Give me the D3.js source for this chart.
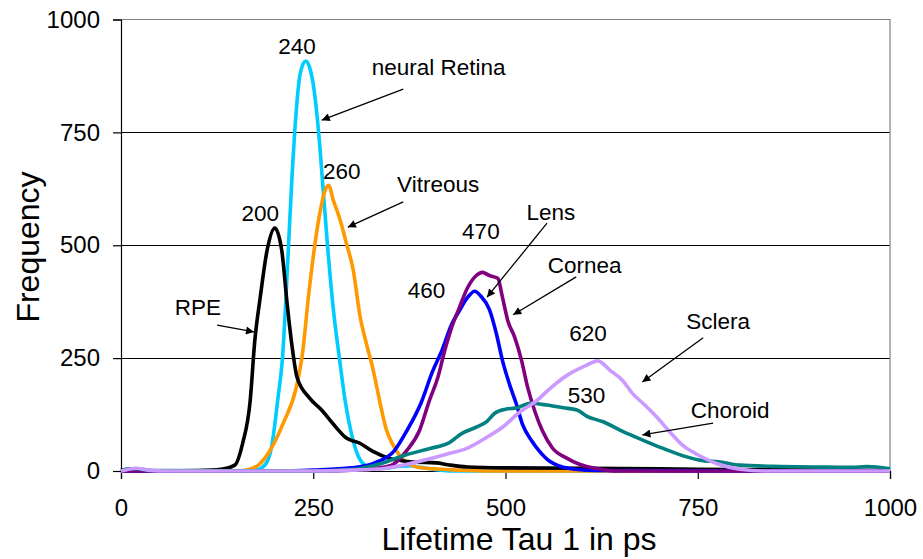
<!DOCTYPE html>
<html>
<head>
<meta charset="utf-8">
<script src="https://cdn.jsdelivr.net/npm/d3@7"></script>
<style>
  html, body { margin: 0; padding: 0; background: #fff; }
  svg { display: block; font-family: "Liberation Sans", Arial, sans-serif; }
</style>
</head>
<body>
<svg id="chart" width="923" height="559"></svg>
<script>
// Lifetime (tau 1, ps) histograms for each ocular tissue
const rpeTau = [0, 15, 30, 60, 100, 130, 148, 158, 168, 174, 181, 190, 200, 209, 216, 222, 229, 245, 262, 276, 293, 310, 327, 349, 380, 410, 425, 450, 500, 600, 700, 800, 900, 1000];
const rpeFreq = [2, 4, 1, 0, 1, 4, 13, 60, 156, 289, 384, 489, 538, 489, 371, 282, 207, 162, 133, 104, 73, 62, 44, 28, 20, 18, 14, 9, 7, 6, 5, 3, 2, 1];

const retinaTau = [0, 150, 175, 188, 196, 204, 210, 217, 222, 228, 233, 240, 245, 251, 257, 263, 269, 276, 284, 292, 300, 308, 318, 330, 345, 360, 375, 390, 410, 430, 1000];
const retinaFreq = [0, 0, 2, 15, 55, 160, 250, 470, 640, 800, 880, 908, 895, 845, 750, 620, 490, 360, 250, 150, 80, 35, 12, 5, 6, 10, 12, 8, 3, 0, 0];

const vitreousTau = [0, 150, 165, 180, 194, 211, 228, 236, 244, 252, 259, 265, 270, 276, 285, 293, 302, 311, 319, 328, 337, 345, 353, 362, 372, 385, 405, 440, 480, 1000];
const vitreousFreq = [0, 0, 3, 15, 46, 106, 186, 260, 390, 500, 575, 620, 633, 600, 556, 505, 445, 341, 283, 223, 150, 92, 60, 35, 18, 9, 5, 2, 0, 0];

const lensTau = [0, 200, 250, 300, 330, 355, 372, 390, 405, 418, 430, 440, 451, 460, 468, 479, 488, 496, 505, 514, 522, 534, 544, 557, 570, 590, 620, 1000];
const lensFreq = [0, 0, 2, 7, 18, 44, 90, 150, 220, 270, 325, 355, 385, 398, 387, 358, 305, 245, 193, 149, 104, 67, 44, 22, 11, 4, 1, 0];

const corneaTau = [0, 250, 300, 336, 354, 371, 388, 401, 412, 421, 430, 440, 451, 462, 470, 479, 490, 496, 503, 512, 521, 529, 538, 548, 561, 579, 596, 620, 645, 1000];
const corneaFreq = [0, 0, 2, 7, 15, 44, 89, 156, 207, 267, 318, 362, 407, 433, 440, 433, 427, 385, 333, 296, 244, 184, 133, 89, 51, 29, 15, 5, 0, 0];

const choroidTau = [0, 10, 20, 40, 250, 300, 337, 371, 402, 425, 444, 462, 476, 486, 500, 515, 532, 554, 575, 593, 606, 627, 653, 679, 705, 730, 753, 779, 805, 857, 900, 950, 970, 1000];
const choroidFreq = [0, 5, 5, 1, 0, 3, 16, 36, 50, 61, 84, 97, 110, 128, 137, 140, 150, 146, 140, 135, 121, 109, 87, 68, 50, 34, 24, 20, 13, 10, 9, 8, 10, 5];

const scleraTau = [0, 10, 20, 35, 60, 250, 300, 340, 380, 423, 452, 475, 497, 518, 540, 560, 582, 605, 620, 636, 652, 665, 680, 697, 714, 731, 750, 775, 805, 840, 1000];
const scleraFreq = [0, 4, 6, 2, 0, 0, 2, 5, 18, 37, 52, 74, 98, 130, 155, 186, 214, 234, 244, 223, 201, 172, 148, 119, 86, 56, 36, 16, 4, 0, 0];

const xTicks = [0, 250, 500, 750, 1000];
const yTicks = [0, 250, 500, 750, 1000];

// Tissue names and their peak-lifetime labels
const tissueNames = ["neural Retina", "Vitreous", "RPE", "Lens", "Cornea", "Choroid", "Sclera"];
const peakLabels = ["240", "260", "200", "460", "470", "530", "620"];

const series = [
  { tau: retinaTau, freq: retinaFreq, color: "#00ccff" },
  { tau: vitreousTau, freq: vitreousFreq, color: "#ff9900" },
  { tau: rpeTau, freq: rpeFreq, color: "#000000" },
  { tau: lensTau, freq: lensFreq, color: "#0000ff" },
  { tau: corneaTau, freq: corneaFreq, color: "#800080" },
  { tau: choroidTau, freq: choroidFreq, color: "#008080" },
  { tau: scleraTau, freq: scleraFreq, color: "#cc99ff" }
];

const svg = d3.select("#chart");
const x = d3.scaleLinear().domain([0, 1000]).range([121, 890]);
const y = d3.scaleLinear().domain([0, 1000]).range([471, 19.5]);

// horizontal gridlines
svg.append("g").selectAll("line")
  .data(yTicks.filter(d => d > 0 && d < 1000))
  .join("line")
  .attr("x1", x(0)).attr("x2", x(1000))
  .attr("y1", d => y(d)).attr("y2", d => y(d))
  .attr("stroke", "#000").attr("stroke-width", 1).attr("shape-rendering", "crispEdges");

// plot frame (top and right edges)
svg.append("path")
  .attr("d", `M${x(0)},${y(1000)}H${x(1000)}V${y(0)}`)
  .attr("fill", "none").attr("stroke", "#808080").attr("stroke-width", 1.2);

// axes
const yAxis = svg.append("g")
  .attr("transform", `translate(${x(0)},0)`)
  .call(d3.axisLeft(y).tickValues(yTicks).tickSize(8).tickPadding(13).tickFormat(d3.format("d")));
const xAxis = svg.append("g")
  .attr("transform", `translate(0,${y(0)})`)
  .call(d3.axisBottom(x).tickValues(xTicks).tickSize(8).tickPadding(20).tickFormat(d3.format("d")));
[yAxis, xAxis].forEach(g => {
  g.select(".domain").attr("stroke", "#000").attr("stroke-width", 1.2);
  g.selectAll(".tick line").attr("stroke", "#000").attr("stroke-width", 1.2);
  g.selectAll(".tick text").attr("fill", "#000").style("font-size", "24px")
    .style("font-family", '"Liberation Sans", Arial, sans-serif');
});

// curves
const line = d3.line()
  .x(d => x(d[0]))
  .y(d => y(d[1]))
  .curve(d3.curveMonotoneX);
svg.append("g").selectAll("path")
  .data(series)
  .join("path")
  .attr("d", s => line(s.tau.map((t, i) => [t, s.freq[i]])))
  .attr("fill", "none")
  .attr("stroke", s => s.color)
  .attr("stroke-width", 3.6)
  .attr("stroke-linejoin", "round");

// axis titles
svg.append("text")
  .attr("x", 519).attr("y", 550)
  .attr("text-anchor", "middle")
  .style("font-size", "32px")
  .text("Lifetime Tau 1 in ps");
svg.append("text")
  .attr("transform", "translate(39,247) rotate(-90)")
  .attr("text-anchor", "middle")
  .style("font-size", "32px")
  .text("Frequency");

// annotations: label positions in data units
const labelSpots = [
  { text: peakLabels[0], tau: 229, f: 941, anchor: "middle" },
  { text: tissueNames[0], tau: 326, f: 894, anchor: "start" },
  { text: peakLabels[1], tau: 287, f: 664, anchor: "middle" },
  { text: tissueNames[1], tau: 359, f: 636, anchor: "start" },
  { text: peakLabels[2], tau: 181, f: 571, anchor: "middle" },
  { text: tissueNames[2], tau: 70, f: 363, anchor: "start" },
  { text: tissueNames[3], tau: 559, f: 574, anchor: "middle" },
  { text: peakLabels[4], tau: 468, f: 532, anchor: "middle" },
  { text: tissueNames[4], tau: 555, f: 456, anchor: "start" },
  { text: peakLabels[3], tau: 373, f: 401, anchor: "start" },
  { text: peakLabels[6], tau: 583, f: 306, anchor: "start" },
  { text: tissueNames[6], tau: 735, f: 332, anchor: "start" },
  { text: peakLabels[5], tau: 581, f: 168, anchor: "start" },
  { text: tissueNames[5], tau: 741, f: 135, anchor: "start" }
];
svg.append("g").selectAll("text")
  .data(labelSpots)
  .join("text")
  .attr("x", d => x(d.tau))
  .attr("y", d => y(d.f))
  .attr("dy", "0.36em")
  .attr("text-anchor", d => d.anchor)
  .style("font-size", "22.5px")
  .attr("fill", "#000")
  .text(d => d.text);

// arrows from each tissue name to its curve
svg.append("defs").append("marker")
  .attr("id", "head")
  .attr("viewBox", "0 0 10 10")
  .attr("refX", 10).attr("refY", 5)
  .attr("markerWidth", 11).attr("markerHeight", 8)
  .attr("markerUnits", "userSpaceOnUse")
  .attr("orient", "auto")
  .append("path").attr("d", "M0,0L10,5L0,10Z").attr("fill", "#000");

const arrows = [
  { from: [367, 846], to: [261, 777] },
  { from: [367, 596], to: [295, 540] },
  { from: [125, 323], to: [173, 308] },
  { from: [554, 549], to: [476, 385] },
  { from: [592, 430], to: [510, 346] },
  { from: [757, 295], to: [678, 197] },
  { from: [770, 106], to: [678, 80] }
];
svg.append("g").selectAll("line")
  .data(arrows)
  .join("line")
  .attr("x1", d => x(d.from[0])).attr("y1", d => y(d.from[1]))
  .attr("x2", d => x(d.to[0])).attr("y2", d => y(d.to[1]))
  .attr("stroke", "#000").attr("stroke-width", 1.3)
  .attr("marker-end", "url(#head)");
</script>
</body>
</html>
